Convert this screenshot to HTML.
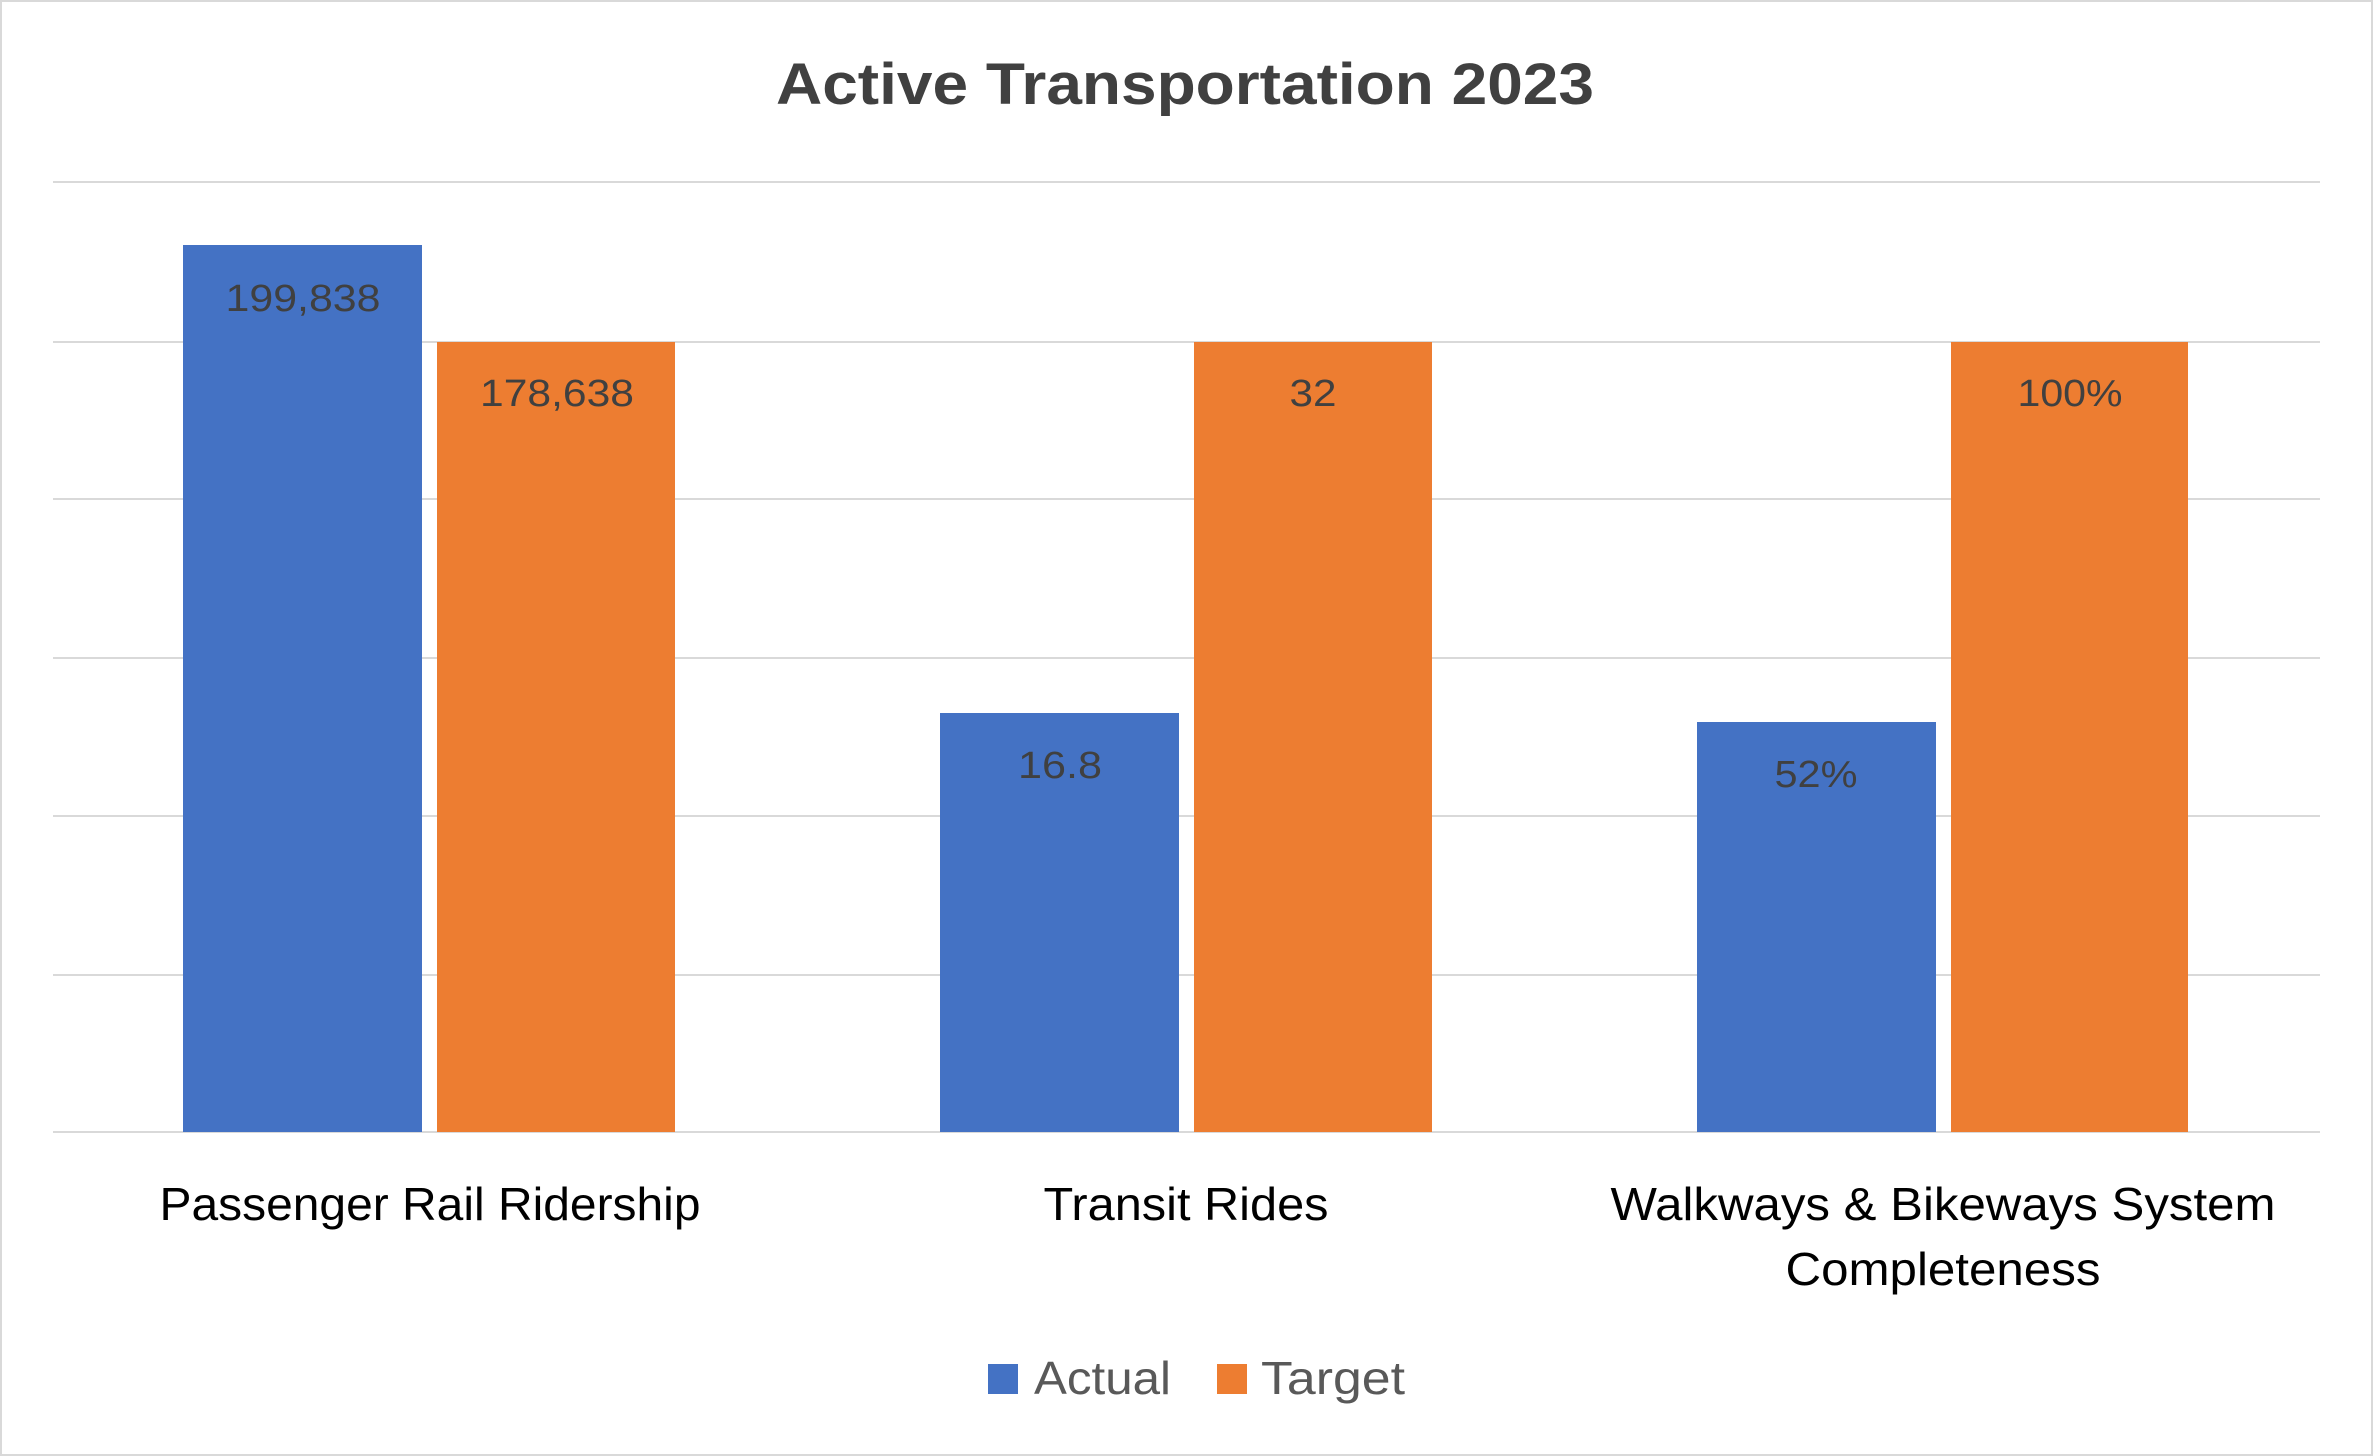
<!DOCTYPE html>
<html><head><meta charset="utf-8"><style>
html,body{margin:0;padding:0;background:#fff;}
svg{display:block;font-family:"Liberation Sans",Arial,sans-serif;}
</style></head><body>
<svg width="2373" height="1456" viewBox="0 0 2373 1456" xmlns="http://www.w3.org/2000/svg">
<rect x="1" y="1" width="2371" height="1454" fill="#fff" stroke="#d9d9d9" stroke-width="2"/>
<text x="1185" y="104" text-anchor="middle" font-size="58" font-weight="bold" fill="#404040" textLength="818" lengthAdjust="spacingAndGlyphs">Active Transportation 2023</text>
<g stroke="#d9d9d9" stroke-width="2">
<line x1="53" y1="182" x2="2320" y2="182"/>
<line x1="53" y1="342" x2="2320" y2="342"/>
<line x1="53" y1="499" x2="2320" y2="499"/>
<line x1="53" y1="658" x2="2320" y2="658"/>
<line x1="53" y1="816" x2="2320" y2="816"/>
<line x1="53" y1="975" x2="2320" y2="975"/>
<line x1="53" y1="1132" x2="2320" y2="1132"/>
</g>
<g fill="#4472c4">
<rect x="183" y="245" width="239" height="887"/>
<rect x="940" y="713" width="239" height="419"/>
<rect x="1697" y="722" width="239" height="410"/>
</g>
<g fill="#ed7d31">
<rect x="437" y="342" width="238" height="790"/>
<rect x="1194" y="342" width="238" height="790"/>
<rect x="1951" y="342" width="237" height="790"/>
</g>
<g font-size="38" fill="#404040" text-anchor="middle" lengthAdjust="spacingAndGlyphs">
<text x="303" y="311" textLength="155" lengthAdjust="spacingAndGlyphs">199,838</text>
<text x="557" y="406" textLength="154" lengthAdjust="spacingAndGlyphs">178,638</text>
<text x="1060" y="778" textLength="84" lengthAdjust="spacingAndGlyphs">16.8</text>
<text x="1313" y="406" textLength="47" lengthAdjust="spacingAndGlyphs">32</text>
<text x="1816" y="787" textLength="83" lengthAdjust="spacingAndGlyphs">52%</text>
<text x="2070" y="406" textLength="105" lengthAdjust="spacingAndGlyphs">100%</text>
</g>
<g font-size="46" fill="#000" text-anchor="middle">
<text x="430" y="1220" textLength="541" lengthAdjust="spacingAndGlyphs">Passenger Rail Ridership</text>
<text x="1186" y="1220" textLength="285" lengthAdjust="spacingAndGlyphs">Transit Rides</text>
<text x="1943" y="1220" textLength="665" lengthAdjust="spacingAndGlyphs">Walkways &amp; Bikeways System</text>
<text x="1943" y="1285" textLength="315" lengthAdjust="spacingAndGlyphs">Completeness</text>
</g>
<rect x="988" y="1364" width="30" height="30" fill="#4472c4"/>
<text x="1034" y="1394" font-size="46" fill="#595959" textLength="137" lengthAdjust="spacingAndGlyphs">Actual</text>
<rect x="1217" y="1364" width="30" height="30" fill="#ed7d31"/>
<text x="1261" y="1394" font-size="46" fill="#595959" textLength="144" lengthAdjust="spacingAndGlyphs">Target</text>
</svg>
</body></html>
